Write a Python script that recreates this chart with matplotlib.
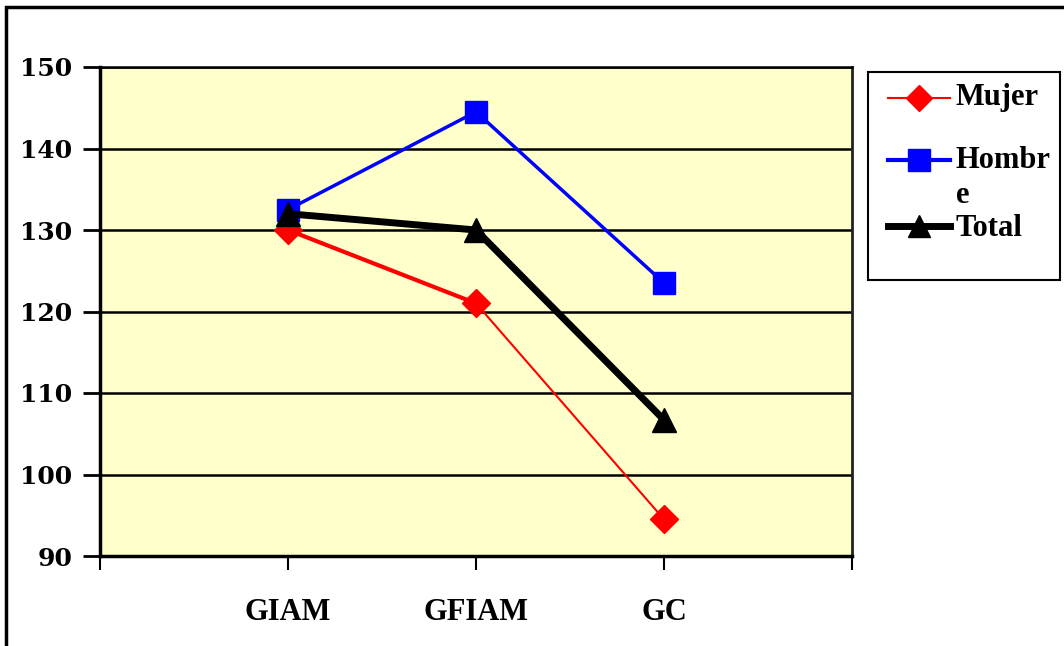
import numpy as np
import matplotlib.pyplot as plt
from matplotlib.patches import Rectangle

categories = ['GIAM', 'GFIAM', 'GC']
mujer = [130.0, 121.0, 94.5]
hombre = [132.5, 144.5, 123.5]
total = [132.0, 130.0, 106.7]
yticks = [90, 100, 110, 120, 130, 140, 150]

plt.rcParams['font.family'] = ['Liberation Serif', 'DejaVu Serif']
plt.rcParams['font.weight'] = 'bold'

fig = plt.figure(figsize=(10.64, 6.46), dpi=100)
ax = fig.add_axes([100 / 1064, 1 - 556 / 646, 752 / 1064, 489 / 646])

# outer frame of the chart object
fig.patches.append(Rectangle((6 / 1064, -0.05), 1.2, (646 - 7) / 646 + 0.05,
                             transform=fig.transFigure, fill=False,
                             edgecolor='black', linewidth=2.5))

x = np.arange(1, len(categories) + 1)
ax.set_facecolor('#FFFFCC')
for y in yticks:
    ax.axhline(y, color='black', linewidth=1.8, zorder=1)

# Mujer: first segment heavier than the second, as in the original
ax.plot(x[:2], mujer[:2], color='#FF0000', linewidth=3, zorder=3)
ax.plot(x[1:], mujer[1:], color='#FF0000', linewidth=1.5, zorder=3)
ax.plot(x, mujer, color='#FF0000', linestyle='none', marker='D', markersize=14,
        zorder=3)
ax.plot(x, hombre, color='#0000FF', linewidth=2.5, marker='s', markersize=16,
        zorder=3)
ax.plot(x, total, color='black', linewidth=5, marker='^', markersize=17,
        zorder=4)

ax.set_xlim(0, 4)
ax.set_ylim(90, 150)
ax.set_yticks(yticks)
ax.set_yticklabels([str(v) for v in yticks], fontsize=18, fontweight='bold',
                   family='DejaVu Serif')
ax.set_xticks(range(0, 5))
ax.set_xticklabels([''] + categories + [''], fontsize=22, fontweight='bold')
ax.tick_params(axis='y', length=12, width=2, pad=8)
ax.tick_params(axis='x', length=10, width=1.5, pad=20)
ax.spines['top'].set_linewidth(1.8)
ax.spines['right'].set_linewidth(2)
ax.spines['right'].set_color('#222222')
ax.spines['left'].set_linewidth(2.5)
ax.spines['bottom'].set_linewidth(2.5)

# legend box
fig.patches.append(Rectangle((868 / 1064, 1 - 280 / 646), 192 / 1064, 208 / 646,
                             transform=fig.transFigure, facecolor='white',
                             edgecolor='black', linewidth=1.5))
leg_items = [('#FF0000', 1.5, 'D', 13, 98),
             ('#0000FF', 3, 's', 16, 160),
             ('black', 5, '^', 16, 226)]
for c, lw, m, ms, yy in leg_items:
    yf = 1 - yy / 646
    fig.lines.append(plt.Line2D([888 / 1064, 950 / 1064], [yf, yf], color=c,
                                linewidth=lw, transform=fig.transFigure))
    fig.lines.append(plt.Line2D([919 / 1064], [yf], color=c, marker=m,
                                markersize=ms, transform=fig.transFigure))
for lab, yy in [('Mujer', 98), ('Hombr', 160), ('e', 196), ('Total', 229)]:
    fig.text(956 / 1064, 1 - yy / 646, lab, fontsize=22, fontweight='bold',
             va='center', ha='left')

fig.savefig('out.png', dpi=100)
